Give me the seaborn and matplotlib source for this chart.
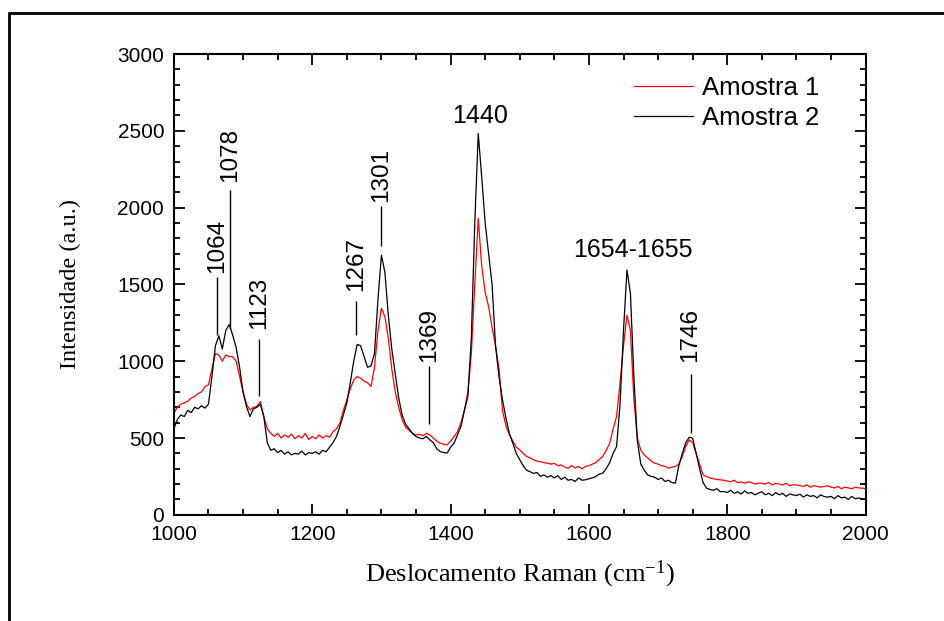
import numpy as np
import pandas as pd
import seaborn as sns
import matplotlib
matplotlib.use("Agg")
import matplotlib.pyplot as plt
from matplotlib.lines import Line2D
from matplotlib.ticker import MultipleLocator

# Raman shift axis, 5 cm-1 steps
shift = np.arange(1000, 2001, 5)

amostra_2 = [
    560, 620, 650, 640, 680, 665, 700, 690, 710, 695,
    720, 900, 1100, 1165, 1080, 1200, 1240, 1170, 1090, 960,
    800, 705, 640, 690, 700, 720, 640, 470, 420, 430,
    405, 420, 395, 410, 390, 400, 395, 415, 390, 405,
    400, 410, 395, 420, 410, 440, 470, 510, 575, 650,
    727, 860, 1000, 1110, 1100, 1030, 960, 970, 1050, 1400,
    1690, 1580, 1300, 1080, 920, 760, 650, 590, 560, 530,
    510, 500, 495, 510, 488, 470, 430, 412, 405, 402,
    440, 466, 520, 575, 680, 770, 1150, 1900, 2483, 2200,
    1900, 1700, 1500, 1100, 900, 750, 630, 530, 466, 400,
    358, 320, 290, 280, 270, 275, 250, 260, 245, 255,
    240, 255, 230, 245, 225, 230, 217, 240, 225, 228,
    235, 240, 250, 265, 271, 300, 340, 400, 445, 720,
    1200, 1594, 1442, 900, 480, 330, 290, 260, 250, 245,
    230, 240, 217, 225, 210, 206, 320, 400, 470, 505,
    499, 401, 300, 210, 174, 165, 160, 170, 150, 152,
    145, 160, 140, 150, 135, 155, 140, 145, 130, 141,
    150, 130, 140, 125, 145, 130, 140, 120, 135, 130,
    125, 135, 115, 130, 120, 125, 110, 130, 119, 115,
    120, 105, 125, 110, 115, 100, 120, 105, 110, 102,
    100,
]

amostra_1 = [
    662, 700, 720, 729, 740, 760, 770, 790, 800, 835,
    846, 950, 1050, 1041, 1000, 1040, 1030, 1030, 1000, 900,
    800, 720, 683, 700, 705, 737, 640, 560, 532, 510,
    530, 500, 520, 505, 525, 495, 515, 500, 530, 490,
    510, 495, 520, 500, 515, 505, 540, 560, 597, 680,
    748, 820, 878, 900, 890, 870, 860, 835, 960, 1200,
    1345, 1290, 1150, 950, 800, 700, 620, 570, 550, 530,
    520, 525, 515, 530, 520, 500, 480, 466, 460, 455,
    480, 510, 540, 600, 680, 800, 1050, 1500, 1930, 1620,
    1450, 1355, 1220, 1100, 950, 680, 580, 520, 480, 440,
    423, 400, 380, 370, 358, 350, 345, 340, 336, 330,
    335, 320, 325, 310, 304, 320, 305, 315, 300, 315,
    320, 330, 340, 360, 380, 420, 466, 560, 640, 860,
    1100, 1300, 1200, 750, 500, 420, 390, 370, 350, 336,
    330, 320, 315, 304, 310, 315, 330, 380, 445, 488,
    470, 400, 330, 260, 249, 240, 235, 230, 228, 225,
    220, 215, 225, 210, 215, 205, 215, 210, 200, 206,
    205, 200, 210, 195, 205, 200, 195, 205, 190, 195,
    195, 190, 185, 195, 180, 190, 185, 180, 184, 190,
    180, 175, 185, 170, 180, 175, 170, 180, 175, 174,
    170,
]

# peak markers (vertical label + short line)
peak_labels = ['1064', '1078', '1123', '1267', '1301', '1369', '1746']
peak_x = [1062, 1081, 1123, 1264, 1300, 1369, 1747]
line_lo = [1171, 1210, 774, 1171, 1750, 592, 534]
line_hi = [1549, 2114, 1146, 1392, 2010, 969, 917]
text_y = [1575, 2166, 1210, 1457, 2036, 995, 995]

# horizontal peak labels
flat_labels = ['1440', '1654-1655']
flat_x = [1443, 1663]
flat_y = [2596, 1724]

df = pd.DataFrame({'shift': np.concatenate([shift, shift]),
                   'intensity': amostra_1 + amostra_2,
                   'amostra': ['Amostra 1'] * len(shift) + ['Amostra 2'] * len(shift)})

sns.set_style("ticks")
plt.rcParams['font.family'] = ['Liberation Sans', 'DejaVu Sans']
plt.rcParams['mathtext.default'] = 'regular'
for key in ['text.color', 'axes.labelcolor', 'xtick.color', 'ytick.color', 'axes.edgecolor']:
    plt.rcParams[key] = 'black'

fig = plt.figure(figsize=(9.45, 6.21), dpi=100)
ax = fig.add_axes([0.184, 0.171, 0.732, 0.742])

sns.lineplot(data=df, x='shift', y='intensity', hue='amostra',
             palette={'Amostra 1': '#ff0000', 'Amostra 2': '#000000'},
             estimator=None, linewidth=0.9, ax=ax)

ax.vlines(peak_x, line_lo, line_hi, color='black', linewidth=1)
for lab, x, y in zip(peak_labels, peak_x, text_y):
    ax.text(x, y, lab, rotation=90, ha='center', va='bottom', fontsize=17.5)
for lab, x, y in zip(flat_labels, flat_x, flat_y):
    ax.text(x, y, lab, ha='center', va='center', fontsize=18)

ax.set_xlim(1000, 2000)
ax.set_ylim(0, 3000)
ax.xaxis.set_major_locator(MultipleLocator(200))
ax.xaxis.set_minor_locator(MultipleLocator(50))
ax.yaxis.set_major_locator(MultipleLocator(500))
ax.yaxis.set_minor_locator(MultipleLocator(100))
ax.tick_params(which='both', direction='in', top=True, right=True, width=1.3)
ax.tick_params(which='major', length=8, labelsize=15, pad=7)
ax.tick_params(which='minor', length=4)
for s in ax.spines.values():
    s.set_linewidth(1.5)

serif = ['Liberation Serif', 'DejaVu Serif']
ax.set_xlabel('Deslocamento Raman (cm$^{-1}$)', family=serif, fontsize=19, labelpad=11)
ax.set_ylabel('Intensidade (a.u.)', family=serif, fontsize=17.5, labelpad=26)

ax.legend(loc='upper left', bbox_to_anchor=(0.671, 0.877), bbox_transform=fig.transFigure,
          frameon=False, fontsize=18.5, handlelength=2.3, handletextpad=0.35,
          labelspacing=0.2, borderpad=0, borderaxespad=0)

# outer frame of the original figure
fig.add_artist(Line2D([0.0095, 1.0], [0.979, 0.979], color='black', linewidth=2))
fig.add_artist(Line2D([0.0095, 0.0095], [0.0, 0.979], color='black', linewidth=2))

fig.savefig('out.png', dpi=100)
